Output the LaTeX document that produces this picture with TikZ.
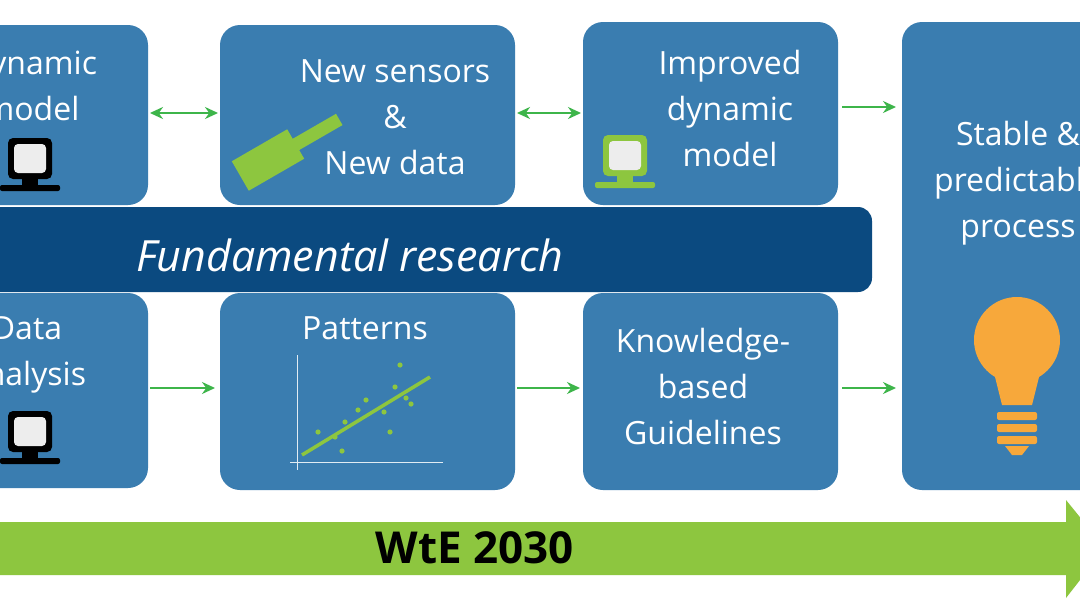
\documentclass[tikz,border=0pt]{standalone}
\usepackage{fontspec}
\setmainfont{Open Sans}
\usetikzlibrary{arrows.meta}
\definecolor{boxblue}{HTML}{3A7DB0}
\definecolor{bandblue}{HTML}{0B4A80}
\definecolor{lgreen}{HTML}{8DC63F}
\definecolor{agreen}{HTML}{3DB54A}
\definecolor{bulb}{HTML}{F7A83B}
\definecolor{icongray}{HTML}{EDEDED}
\tikzset{
  box/.style={fill=boxblue,rounded corners=20pt},
  lbl/.style={text=white,font=\fontsize{32}{46}\selectfont,align=center},
  conn/.style={draw=agreen,line width=2pt,-{Stealth[length=13pt,width=12pt]}},
  dconn/.style={draw=agreen,line width=2pt,{Stealth[length=13pt,width=12pt]}-{Stealth[length=13pt,width=12pt]}},
  pics/computer/.style n args={2}{code={
    \fill[#1,rounded corners=5pt] (-22,-27) rectangle (22,14);
    \fill[#2,rounded corners=4pt] (-16,-21) rectangle (16,8);
    \fill[#1] (-8,14) rectangle (8,20);
    \fill[#1,rounded corners=2pt] (-30,20) rectangle (30,26);
  }}
}
\begin{document}
\begin{tikzpicture}[x=1pt,y=-1pt]
\useasboundingbox (0,0) rectangle (1080,608);
\fill[white] (0,0) rectangle (1080,608);
\begin{scope}
\clip (0,0) rectangle (1080,608);
% boxes
\fill[box] (-30,25) rectangle (148,205);
\fill[box] (220,25) rectangle (515,205);
\fill[box] (583,22) rectangle (838,205);
\fill[box] (902,22) rectangle (1100,490);
\fill[box] (-30,293) rectangle (148,488);
\fill[box] (220,293) rectangle (515,490);
\fill[box] (583,293) rectangle (838,490);
% band
\fill[bandblue,rounded corners=14pt] (-30,207) rectangle (872,292);
\node[text=white,font=\fontsize{43}{50}\selectfont\itshape,anchor=west,inner sep=0pt] (fr) at (136,255) {Fundamental research};
% texts
\node[lbl] (ta) at (32,86) {Dynamic\\model};
\node[lbl] (tb) at (395,117) {New sensors\\\&\\New data};
\node[lbl] (tc) at (730,108) {Improved\\dynamic\\model};
\node[lbl] (td) at (1018,183) {Stable \&\\predictable\\process};
\node[lbl] (ta2) at (27,355) {Data\\analysis};
\node[lbl] (tb2) at (365,328) {Patterns};
\node[lbl] (tc2) at (703,386) {Knowledge-\\based\\Guidelines};
% icons
\pic at (30,165) {computer={black}{icongray}};
\pic at (625,162) {computer={lgreen}{icongray}};
\pic at (30,438) {computer={black}{icongray}};
% sensor
\fill[lgreen,rotate around={30:(268,160)}] (236,143) rectangle (300,177);
\fill[lgreen,rotate around={30:(268,160)}] (298,154) rectangle (350,167);
% plot
\draw[white!85!boxblue,line width=1pt] (297,355) -- (297,470);
\draw[white!85!boxblue,line width=1pt] (290,462) -- (443,462);
\draw[lgreen,line width=3.5pt] (302,455) -- (430,377);
\foreach \p in {(318,432),(335,437),(345,422),(358,410),(366,400),(384,412),(390,432),(395,387),(400,365),(406,398),(411,404),(342,451)}
  \fill[lgreen] \p circle (2.6);
% bulb
\fill[bulb] (1017,340) circle (43);
\fill[bulb] (992,365) -- (1042,365) -- (1032,405) -- (1002,405) -- cycle;
\foreach \yy in {412,424,436} \fill[bulb,rounded corners=2pt] (997,\yy) rectangle (1037,\yy+8);
\fill[bulb] (1005,446) -- (1029,446) -- (1022,455) -- (1012,455) -- cycle;
% connectors
\coordinate (a1) at (150,113); \coordinate (b1) at (218,113);
\coordinate (b1r) at (517,113); \coordinate (c1) at (581,113);
\coordinate (c1r) at (842,107); \coordinate (d1) at (896,107);
\coordinate (a2) at (150,388); \coordinate (b2) at (215,388);
\coordinate (b2r) at (517,388); \coordinate (c2) at (580,388);
\coordinate (c2r) at (842,388); \coordinate (d2) at (896,388);
\draw[dconn] (a1) -- (b1);
\draw[dconn] (b1r) -- (c1);
\draw[conn] (c1r) -- (d1);
\draw[conn] (a2) -- (b2);
\draw[conn] (b2r) -- (c2);
\draw[conn] (c2r) -- (d2);
% timeline
\fill[lgreen] (-10,522) -- (1066,522) -- (1066,500) -- (1105,548) -- (1066,598) -- (1066,575) -- (-10,575) -- cycle;
\node[font=\fontsize{44}{50}\selectfont\bfseries,text=black] (wte) at (475,548) {WtE 2030};
\end{scope}
\end{tikzpicture}
\end{document}
